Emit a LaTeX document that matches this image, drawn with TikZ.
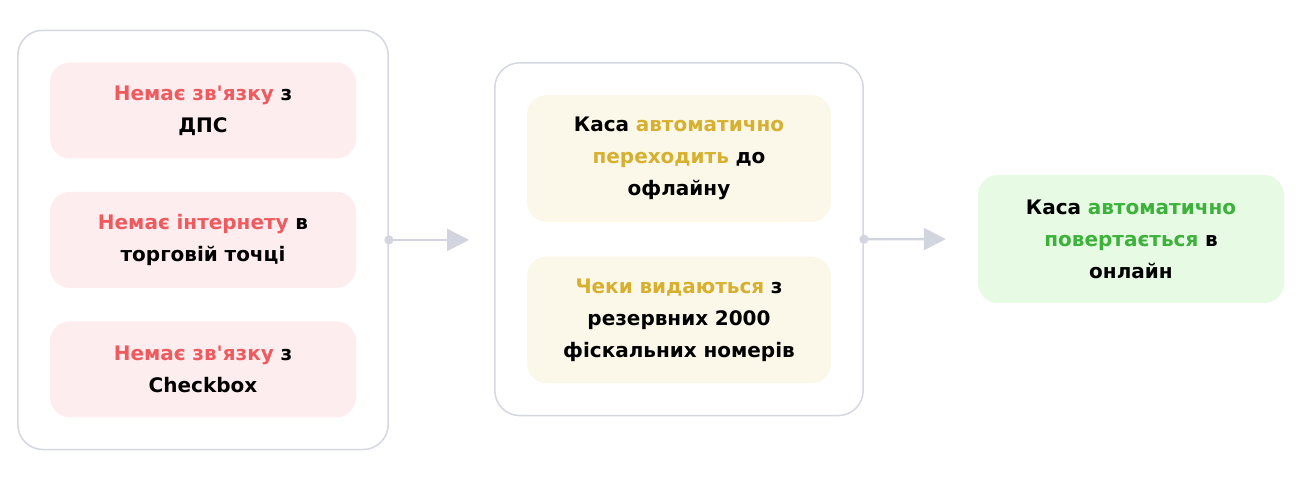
\documentclass[tikz,border=0pt]{standalone}
\usepackage{fontspec}
\newfontfamily\uafont{DejaVu Sans}
\usepackage{xcolor}
\usepackage{tikz}
\usetikzlibrary{positioning,arrows.meta,fit,backgrounds}

\definecolor{failred}{HTML}{EF5A5F}
\definecolor{failfill}{HTML}{FDEDEE}
\definecolor{offyellow}{HTML}{D6B02E}
\definecolor{offfill}{HTML}{FCF8E9}
\definecolor{okgreen}{HTML}{3CB23A}
\definecolor{okfill}{HTML}{E6FAE4}
\definecolor{framegray}{HTML}{D5D7E2}
\definecolor{arrowgray}{HTML}{D2D5DF}

\begin{document}
\begin{tikzpicture}[
    x=1pt, y=-1pt,
    node distance=33pt and 33pt,
    font=\uafont\bfseries\fontsize{20}{32}\selectfont,
    card/.style={rounded corners=20pt, align=center, text width=280pt, minimum width=306pt, inner sep=0pt},
    fail_box/.style={card, fill=failfill, minimum height=96pt},
    off_box/.style={card, fill=offfill, minimum width=304pt, minimum height=127pt},
    ok_box/.style={card, fill=okfill, minimum height=128pt},
    group_box/.style={draw=framegray, line width=1.5pt, fill=white, rounded corners=25pt, inner xsep=32pt, inner ysep=32pt},
    flow/.style={draw=arrowgray, line width=2.5pt, {Circle[length=9pt]}-{Triangle[length=22pt,width=22pt]}, shorten <=-4.5pt}
]
\useasboundingbox (0,0) rectangle (1301,478);

% causes
\node (nolink) [fail_box] at (203,110.5)
    {\textcolor{failred}{Немає зв'язку} з\\ДПС};
\node (nonet)  [fail_box, below=33pt of nolink]
    {\textcolor{failred}{Немає інтернету} в\\торговій точці};
\node (nochk)  [fail_box, below=33pt of nonet]
    {\textcolor{failred}{Немає зв'язку} з\\Checkbox};

% offline mode
\node (offline) [off_box] at (679,158.5)
    {Каса \textcolor{offyellow}{автоматично}\\\textcolor{offyellow}{переходить} до\\офлайну};
\node (reserve) [off_box, below=34pt of offline]
    {\textcolor{offyellow}{Чеки видаються} з\\резервних 2000\\фіскальних номерів};

% back online
\node (online) [ok_box] at (1131,239)
    {Каса \textcolor{okgreen}{автоматично}\\\textcolor{okgreen}{повертається} в\\онлайн};

\begin{scope}[on background layer]
  \node (causes) [group_box, fit=(nolink)(nochk)] {};
  \node (offmode) [group_box, fit=(offline)(reserve)] {};
\end{scope}

\draw [flow, shorten >=25pt] (causes.east)  -- (offmode.west |- causes.east);
\draw [flow, shorten >=32pt] (offmode.east) -- (online.west);

\end{tikzpicture}
\end{document}
